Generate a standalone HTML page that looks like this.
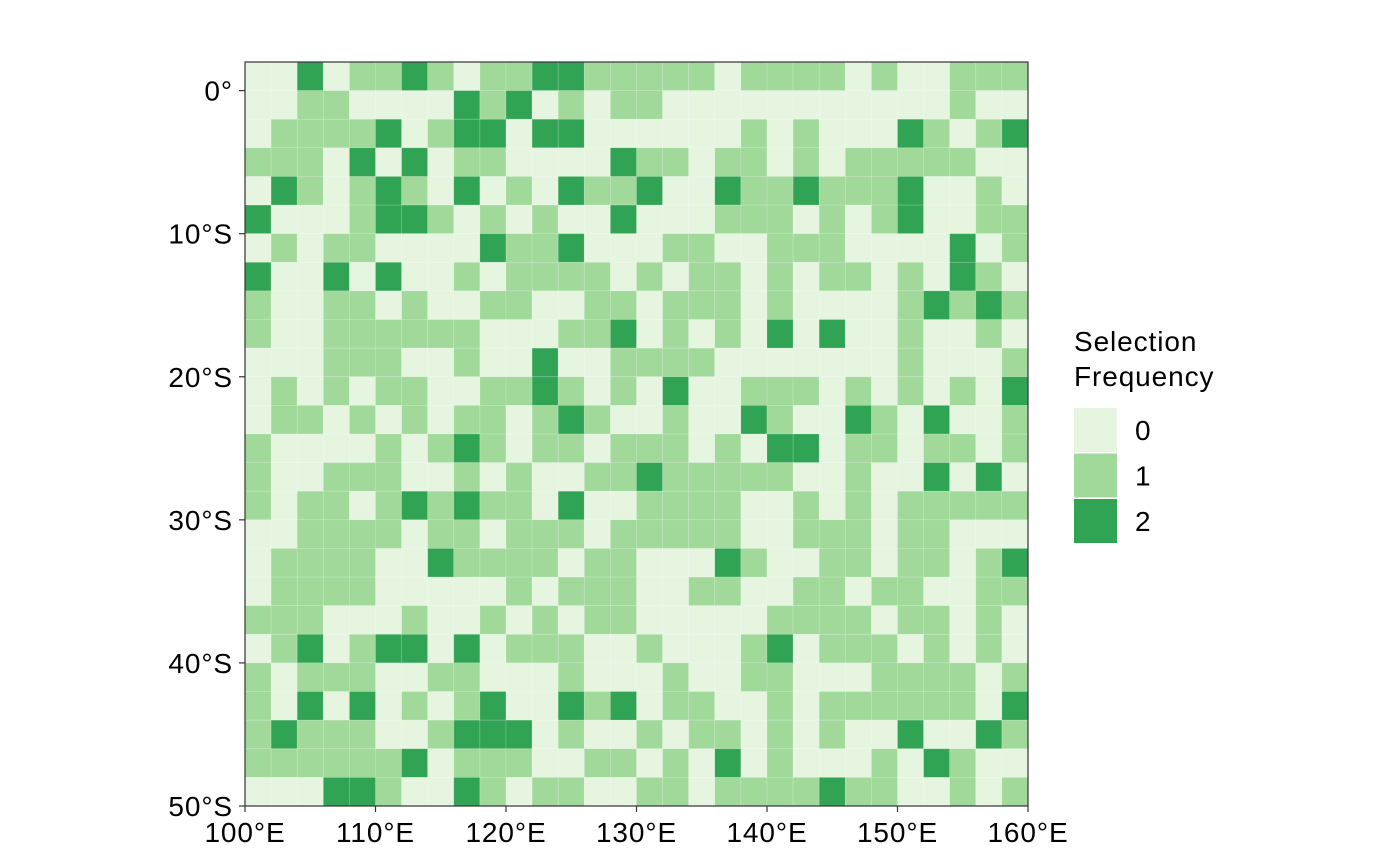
<!DOCTYPE html>
<html><head><meta charset="utf-8">
<style>
html,body{margin:0;padding:0;background:#fff;}
svg{display:block;font-family:"Liberation Sans",Arial,sans-serif;}
text{letter-spacing:0.9px;}
</style></head>
<body>
<svg id="chart" width="1400" height="866" viewBox="0 0 1400 866" xmlns="http://www.w3.org/2000/svg">
<g id="cells"></g>
<rect x="245" y="62" width="783" height="744" fill="none" stroke="#333" stroke-width="1.2"/>
<g id="axes"></g>
<g>
<text x="1074" y="351" font-size="28" fill="#000">Selection</text>
<text x="1074" y="386" font-size="28" fill="#000">Frequency</text>
<g id="legend-keys"></g>
</g>
</svg>
<script>
const xTicks=[100,110,120,130,140,150,160];
const xTickLabels=["100°E","110°E","120°E","130°E","140°E","150°E","160°E"];
const yTicks=[0,-10,-20,-30,-40,-50];
const yTickLabels=["0°","10°S","20°S","30°S","40°S","50°S"];
const legendValues=[0,1,2];
const colors=["#e5f5e0","#a1d99b","#31a354"];
// grid rows from 2°N down to 50°S, cols from 100°E to 160°E, 2° cells
const grid=[
"002011210112211111011110100111",
"001100002120101100000000000100",
"011112012202200000010100021012",
"111020201100002110110101111100",
"021012102010211200211211120010",
"200012210101002000111010120011",
"010110000211200011001110000201",
"200202001011110101101011010210",
"100110100110011011101000012121",
"100111111000112010102020010010",
"000111001002001111000000010001",
"010101100112101020011101010102",
"011010101101210010021002102001",
"100001012101101110102201101101",
"100111001010011211111001002020",
"101101212110200111100101011111",
"001111011011101111100111011000",
"011110021111011000210011011012",
"011110000010111001100110110011",
"111000100101011000001111011010",
"012012202011100100012011101010",
"101110011000100010011000111101",
"102020101200212011001011111102",
"121110012220100101101010020021",
"111111201110011010201000102100",
"000221002101100110111121100101"
];
const x0=245,x1=1028,y0=62,y1=806;
const lonMin=100,lonMax=160,latMax=2,latMin=-50;
function xs(lon){return x0+(lon-lonMin)/(lonMax-lonMin)*(x1-x0);}
function ys(lat){return y0+(latMax-lat)/(latMax-latMin)*(y1-y0);}
const NS="http://www.w3.org/2000/svg";
const cells=document.getElementById('cells');
grid.forEach((row,r)=>{
  for(let c=0;c<row.length;c++){
    const v=+row[c];
    const lon=lonMin+c*2, lat=latMax-r*2;
    const el=document.createElementNS(NS,'rect');
    
    
    el.setAttribute('x',xs(lon));el.setAttribute('y',ys(lat));
    el.setAttribute('width',xs(lon+2)-xs(lon));el.setAttribute('height',ys(lat-2)-ys(lat));
    el.setAttribute('fill',colors[v]);
    el.setAttribute('stroke','rgba(255,255,255,0.18)');el.setAttribute('stroke-width','0.8');
    cells.appendChild(el);
  }
});
const axes=document.getElementById('axes');
xTicks.forEach((t,i)=>{
  const x=xs(t);
  const l=document.createElementNS(NS,'line');
  
  
  l.setAttribute('x1',x);l.setAttribute('x2',x);l.setAttribute('y1',y1);l.setAttribute('y2',y1+6);
  l.setAttribute('stroke','#333');l.setAttribute('stroke-width','1.2');axes.appendChild(l);
  const tx=document.createElementNS(NS,'text');
  
  
  tx.setAttribute('x',x);tx.setAttribute('y',842);tx.setAttribute('text-anchor','middle');
  tx.setAttribute('font-size','28');tx.setAttribute('fill','#000');tx.textContent=xTickLabels[i];axes.appendChild(tx);
});
yTicks.forEach((t,i)=>{
  const y=ys(t);
  const l=document.createElementNS(NS,'line');
  
  
  l.setAttribute('x1',x0-6);l.setAttribute('x2',x0);l.setAttribute('y1',y);l.setAttribute('y2',y);
  l.setAttribute('stroke','#333');l.setAttribute('stroke-width','1.2');axes.appendChild(l);
  const tx=document.createElementNS(NS,'text');
  
  
  tx.setAttribute('x',233);tx.setAttribute('y',y+10);tx.setAttribute('text-anchor','end');
  tx.setAttribute('font-size','28');tx.setAttribute('fill','#000');tx.textContent=yTickLabels[i];axes.appendChild(tx);
});
const lk=document.getElementById('legend-keys');
legendValues.forEach((v,i)=>{
  const y=408+i*45.5;
  const r=document.createElementNS(NS,'rect');
  
  
  r.setAttribute('x',1074);r.setAttribute('y',y);r.setAttribute('width',43);r.setAttribute('height',44);
  r.setAttribute('fill',colors[v]);lk.appendChild(r);
  const t=document.createElementNS(NS,'text');
  
  
  t.setAttribute('x',1135);t.setAttribute('y',y+32);t.setAttribute('font-size','28');t.setAttribute('fill','#000');
  t.textContent=String(v);lk.appendChild(t);
});
</script>
</body></html>
